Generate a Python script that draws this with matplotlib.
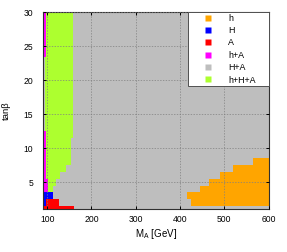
import numpy as np
import matplotlib
matplotlib.use('Agg')
import matplotlib.pyplot as plt
from matplotlib.lines import Line2D

plt.rcParams['font.family'] = ['Liberation Sans', 'DejaVu Sans']
plt.rcParams['font.size'] = 6

# scan range
ma_min, ma_max = 90, 600
tanb_rows = np.arange(1, 31)

# h+H+A region (green), per tanb row
hHA_rows = [4, 5, 6, 7, 8, 9, 10, 11, 12, 13, 14, 15, 16, 17, 18, 19, 20, 21, 22, 23, 24, 25, 26, 27, 28, 29, 30]
hHA_lo = [102, 102, 97, 97, 97, 97, 97, 97, 97, 94, 94, 94, 94, 94, 94, 94, 94, 94, 94, 94, 97, 97, 97, 97, 97, 97, 97]
hHA_hi = [113, 120, 130, 143, 153, 153, 153, 153, 158, 158, 158, 158, 158, 158, 158, 158, 158, 158, 158, 158, 158, 158, 158, 158, 158, 158, 158]

# h+A region (magenta), starts at ma_min
hA_rows = [4, 5, 6, 7, 8, 9, 10, 11, 12, 18, 19, 20, 21, 22, 23, 24, 25, 26, 27, 28, 29, 30]
hA_hi = [102, 102, 97, 97, 97, 97, 97, 97, 97, 93, 93, 93, 93, 93, 93, 97, 97, 97, 97, 97, 97, 97]

# H region (blue)
H_rows = [2, 3]
H_lo = [90, 90]
H_hi = [97, 112]

# A region (red)
A_rows = [1, 2]
A_lo = [90, 97]
A_hi = [160, 127]

# h region (orange), ends at ma_max
h_rows = [2, 3, 4, 5, 6, 7, 8]
h_lo = [425, 415, 445, 465, 490, 520, 565]

colors = {'h': '#ffa500', 'H': '#0000ff', 'A': '#ff0000',
          'h+A': '#ff00ff', 'H+A': '#bebebe', 'h+H+A': '#adff2f'}

fig = plt.figure(figsize=(2.87, 2.52), dpi=100)
ax = fig.add_axes([0.149, 0.169, 0.787, 0.782])

def cells(rows, lo, hi, c):
    lo = np.asarray(lo)
    hi = np.asarray(hi)
    ax.barh(rows, hi - lo, left=lo, height=1.0, color=c, edgecolor='none', linewidth=0)

cells(tanb_rows, np.full(len(tanb_rows), ma_min), np.full(len(tanb_rows), ma_max), colors['H+A'])
cells(hHA_rows, hHA_lo, hHA_hi, colors['h+H+A'])
cells(hA_rows, np.full(len(hA_rows), ma_min), hA_hi, colors['h+A'])
cells(H_rows, H_lo, H_hi, colors['H'])
cells(A_rows, A_lo, A_hi, colors['A'])
cells(h_rows, h_lo, np.full(len(h_rows), ma_max), colors['h'])

ax.set_xlim(ma_min, ma_max)
ax.set_ylim(1, 30)
ax.set_xticks([100, 200, 300, 400, 500, 600])
ax.set_yticks([5, 10, 15, 20, 25, 30])
ax.set_axisbelow(False)
ax.grid(True, color='#808080', linestyle=(0, (2, 2)), linewidth=0.5)
ax.tick_params(direction='in', top=True, right=True, length=2.4, width=0.7, labelsize=6.2)
ax.tick_params(axis='x', pad=4)
ax.tick_params(axis='y', pad=7)
for s in ax.spines.values():
    s.set_linewidth(0.8)
    s.set_color('#303030')

ax.set_xlabel(r'M$_\mathregular{A}$ [GeV]', fontsize=7, labelpad=2)
ax.set_ylabel(r'tanβ', fontsize=6.8, labelpad=9)

labels = ['h', 'H', 'A', 'h+A', 'H+A', 'h+H+A']
handles = [Line2D([], [], marker='s', linestyle='none', markersize=4.8,
                  markerfacecolor=colors[k], markeredgecolor='none') for k in labels]
leg = ax.legend(handles, labels, loc='upper right', bbox_to_anchor=(0.643, 0.64, 0.357, 0.36),
                mode='expand', borderaxespad=0, borderpad=0.15, handlelength=4.1,
                handletextpad=0.3, labelspacing=0.38, fancybox=False, framealpha=1,
                edgecolor='#505050', fontsize=6.4)
leg.get_frame().set_linewidth(0.7)
leg.set_zorder(5)

fig.savefig('out.png', dpi=100)
